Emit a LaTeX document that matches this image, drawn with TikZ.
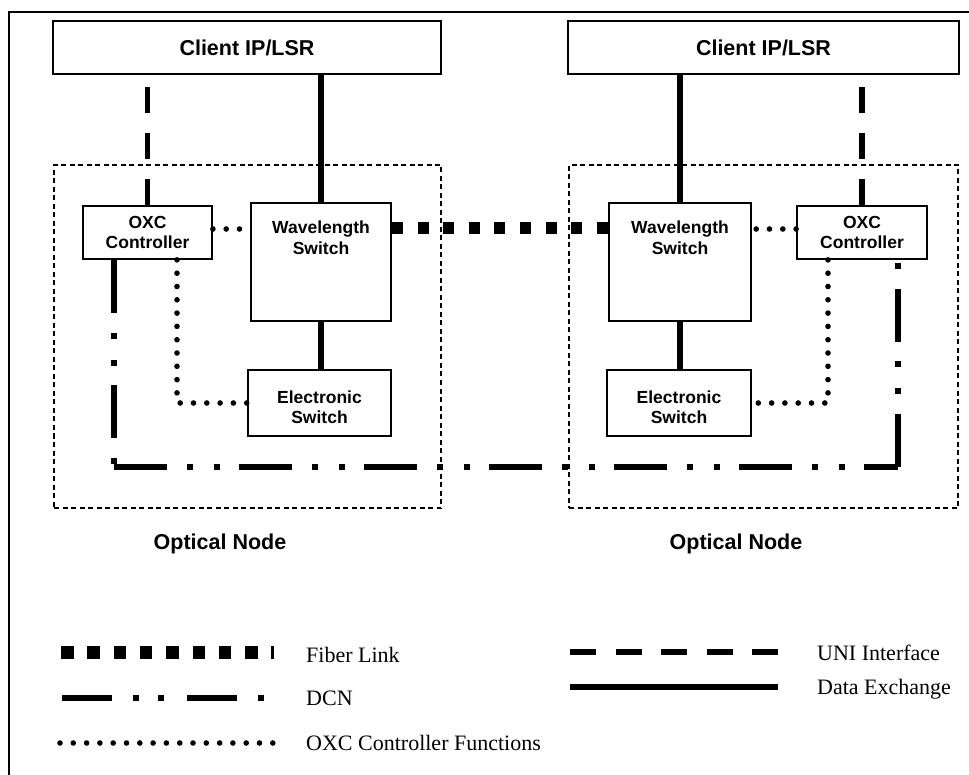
\documentclass[tikz,border=0pt]{standalone}
\usepackage{fontspec}
\setmainfont{Liberation Serif}
\newfontfamily\labelfont{Liberation Sans}

\begin{document}
\begin{tikzpicture}[x=1pt,y=-1pt,
  box/.style={draw, line width=1.8pt, fill=white, inner sep=0pt},
  nodebox/.style={draw, line width=1.2pt, dash pattern=on 5pt off 3.5pt, inner sep=0pt},
  lbl/.style={font=\labelfont\bfseries\fontsize{17.5}{20.5}\selectfont, align=center},
  title/.style={font=\labelfont\bfseries\fontsize{21.5}{25}\selectfont},
  legendtext/.style={font=\fontsize{22}{26}\selectfont, anchor=base west, inner sep=0pt},
  uni/.style={line width=5.8pt, dash pattern=on 26pt off 20pt},
  dataex/.style={line width=6.5pt},
  ctrl/.style={line width=5.6pt, line cap=round, dash pattern=on 0pt off 13.3pt},
  fiber/.style={line width=12pt, dash pattern=on 11pt off 14.6pt},
  dcn/.style={line width=6pt, dash pattern=on 53pt off 20pt on 6pt off 21pt on 6pt off 19pt}
]
\useasboundingbox (0,0) rectangle (969,775);

% outer frame (top and left edges)
\draw[line width=1.5pt] (9,775) -- (9,12) -- (969,12);

% optical node outlines
\node[nodebox, minimum width=387pt, minimum height=343pt] (lnode) at (247.5,336.5) {};
\node[nodebox, minimum width=389pt, minimum height=343pt] (rnode) at (763.5,336.5) {};

% client routers
\node[box, minimum width=388pt, minimum height=53pt, font=\labelfont\bfseries\fontsize{21.5}{25}\selectfont]
  (lclient) at (247,47.5) {Client IP/LSR};
\node[box, minimum width=391pt, minimum height=53pt, font=\labelfont\bfseries\fontsize{21.5}{25}\selectfont]
  (rclient) at (763.5,47.5) {Client IP/LSR};

% left optical node
\node[box, lbl, minimum width=129pt, minimum height=53pt] (loxc) at (147.5,232.5) {OXC\\Controller};
\node[box, minimum width=140pt, minimum height=118pt,
  label={[lbl, anchor=north, inner sep=0pt, label distance=-19pt]north:Wavelength\\Switch}]
  (lws) at (321,262) {};
\node[box, minimum width=143pt, minimum height=66pt,
  label={[lbl, anchor=center, inner sep=0pt, yshift=-4pt]center:Electronic\\Switch}]
  (les) at (319.5,403) {};

% right optical node
\node[box, lbl, minimum width=130pt, minimum height=53pt] (roxc) at (862,232.5) {OXC\\Controller};
\node[box, minimum width=142pt, minimum height=118pt,
  label={[lbl, anchor=north, inner sep=0pt, label distance=-19pt]north:Wavelength\\Switch}]
  (rws) at (680,262) {};
\node[box, minimum width=144pt, minimum height=66pt,
  label={[lbl, anchor=center, inner sep=0pt, yshift=-4pt]center:Electronic\\Switch}]
  (res) at (679,403) {};

\node[title, anchor=base] (lname) at (220,549) {Optical Node};
\node[title, anchor=base] (rname) at (736,549) {Optical Node};

% helper coordinates
\coordinate (hline) at (0,229);
\coordinate (dcnl) at ([xshift=-33.5pt]loxc.south |- 0,467);
\coordinate (dcnr) at ([xshift=36pt]roxc.south |- 0,467);

% UNI interfaces
\draw[uni] (loxc.north) -- (loxc.north |- lclient.south);
\draw[uni] (roxc.north) -- (roxc.north |- rclient.south);

% data exchange
\draw[dataex] (lws.north) -- (lws.north |- lclient.south);
\draw[dataex] (rws.north) -- (rws.north |- rclient.south);
\draw[dataex] (lws.south) -- (lws.south |- les.north);
\draw[dataex] (rws.south) -- (rws.south |- res.north);

% fiber link
\draw[fiber] (lws.east |- 0,228) -- (rws.west |- 0,228);

% OXC controller functions
\draw[ctrl] (loxc.east |- hline) -- (lws.west |- hline);
\draw[ctrl] (roxc.west |- hline) -- (rws.east |- hline);
\draw[ctrl] ([xshift=29.5pt]loxc.south) -- ([xshift=29.5pt]loxc.south |- les.west) -- (les.west);
\draw[ctrl] ([xshift=-34pt]roxc.south) -- ([xshift=-34pt]roxc.south |- res.east) -- (res.east);

% DCN
\draw[dcn] ([xshift=-33.5pt]loxc.south) -- (dcnl);
\draw[dcn] (dcnl) -- (dcnr);
\draw[dcn] (dcnr) -- ([xshift=36pt]roxc.south);

% legend
\draw[line width=13pt, dash pattern=on 12.5pt off 13.8pt] (61,652) -- (274,652);
\draw[line width=6pt, dash pattern=on 50pt off 21pt on 6pt off 19pt on 6pt off 23pt] (62,698) -- (266,698);
\draw[ctrl] (60,743) -- (274,743);
\draw[line width=5.5pt, dash pattern=on 26pt off 19.5pt] (570,652) -- (778,652);
\draw[line width=6pt] (570,687) -- (778,687);

\node[legendtext] (lg1) at (306,662) {Fiber Link};
\node[legendtext] (lg2) at (306,705) {DCN};
\node[legendtext] (lg3) at (306,750) {OXC Controller Functions};
\node[legendtext] (lg4) at (817,660) {UNI Interface};
\node[legendtext] (lg5) at (817,694) {Data Exchange};
\end{tikzpicture}
\end{document}
